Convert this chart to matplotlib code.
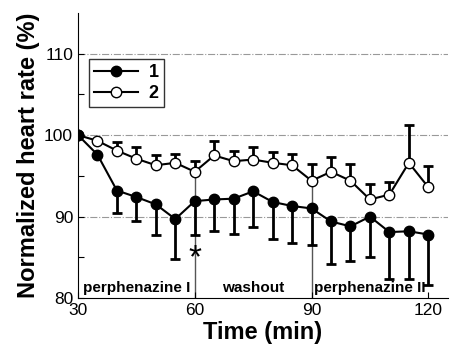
import matplotlib.pyplot as plt

plt.rcParams['font.family'] = ['Liberation Sans', 'DejaVu Sans']

# time points (min)
t = [30, 35, 40, 45, 50, 55, 60, 65, 70, 75, 80, 85, 90, 95, 100, 105, 110, 115, 120]

# group 1 (filled) - mean and lower SEM
hr1 = [100, 97.6, 93.2, 92.4, 91.5, 89.7, 91.9, 92.1, 92.2, 93.1, 91.8, 91.3, 91.0,
       89.4, 88.8, 90.0, 88.1, 88.2, 87.8]
err1 = [0, 0, 2.7, 3.0, 3.8, 4.9, 4.2, 3.9, 4.3, 4.4, 4.5, 4.5, 4.5,
        5.2, 4.3, 4.9, 5.8, 5.8, 6.2]

# group 2 (open) - mean and upper SEM
hr2 = [100, 99.3, 98.1, 97.1, 96.3, 96.6, 95.5, 97.5, 96.8, 97.0, 96.6, 96.3, 94.4,
       95.5, 94.4, 92.1, 92.7, 96.6, 93.6]
err2 = [0, 0, 1.0, 1.4, 1.2, 1.1, 1.3, 1.8, 1.3, 1.6, 1.3, 1.4, 2.1,
        1.8, 2.0, 1.9, 1.6, 4.6, 2.6]

phases = ['perphenazine I', 'washout', 'perphenazine II']
phase_mid = [45, 75, 105]

fig = plt.figure(figsize=(4.56, 3.57), dpi=100)
ax = fig.add_axes([0.171, 0.165, 0.811, 0.799])

for y in [90, 100, 110]:
    ax.axhline(y, color='#999999', lw=0.8, ls='-.', zorder=0)

# phase boundaries reach up to group 2 values
ax.vlines(60, 80, hr2[t.index(60)], color='#555555', lw=1.0, zorder=1)
ax.vlines(90, 80, hr2[t.index(90)], color='#555555', lw=1.0, zorder=1)

ax.errorbar(t, hr1, yerr=[err1, [0] * len(t)], fmt='none', ecolor='black',
            elinewidth=2, capsize=3.5, capthick=2, zorder=2)
ax.errorbar(t, hr2, yerr=[[0] * len(t), err2], fmt='none', ecolor='black',
            elinewidth=2, capsize=3.5, capthick=2, zorder=2)

ax.plot(t, hr1, 'o-', color='black', mfc='black', ms=7.5, lw=1.5, label='1', zorder=4)
ax.plot(t, hr2, 'o-', color='black', mfc='white', ms=7.5, lw=1.5, mew=1.0, label='2', zorder=3)

for name, xm in zip(phases, phase_mid):
    ax.text(xm, 80.4, name, ha='center', va='bottom', fontsize=11, fontweight='bold')
ax.text(60, 85.3, '*', ha='center', va='center_baseline', fontsize=24)

ax.set_xlim(30, 125)
ax.set_ylim(80, 115)
ax.set_xticks([30, 60, 90, 120])
ax.set_yticks([80, 90, 100, 110])
ax.set_yticks([85, 95, 105], minor=True)
ax.tick_params(direction='in', labelsize=12.5, length=4, width=0.8)
ax.tick_params(which='minor', direction='in', length=4, width=0.8)
ax.spines['top'].set_visible(False)
ax.spines['right'].set_visible(False)
ax.set_xlabel('Time (min)', fontsize=17, fontweight='bold', labelpad=2)
ax.set_ylabel('Normalized heart rate (%)', fontsize=17, fontweight='bold', labelpad=3)

leg = ax.legend(loc='upper left', bbox_to_anchor=(0.005, 0.87), frameon=True, fancybox=False,
                edgecolor='black', prop={'weight': 'bold', 'size': 13}, handlelength=2.4,
                borderpad=0.3, labelspacing=0.2, handletextpad=0.6)
leg.get_frame().set_linewidth(1.0)

fig.savefig('out.png', dpi=100)
